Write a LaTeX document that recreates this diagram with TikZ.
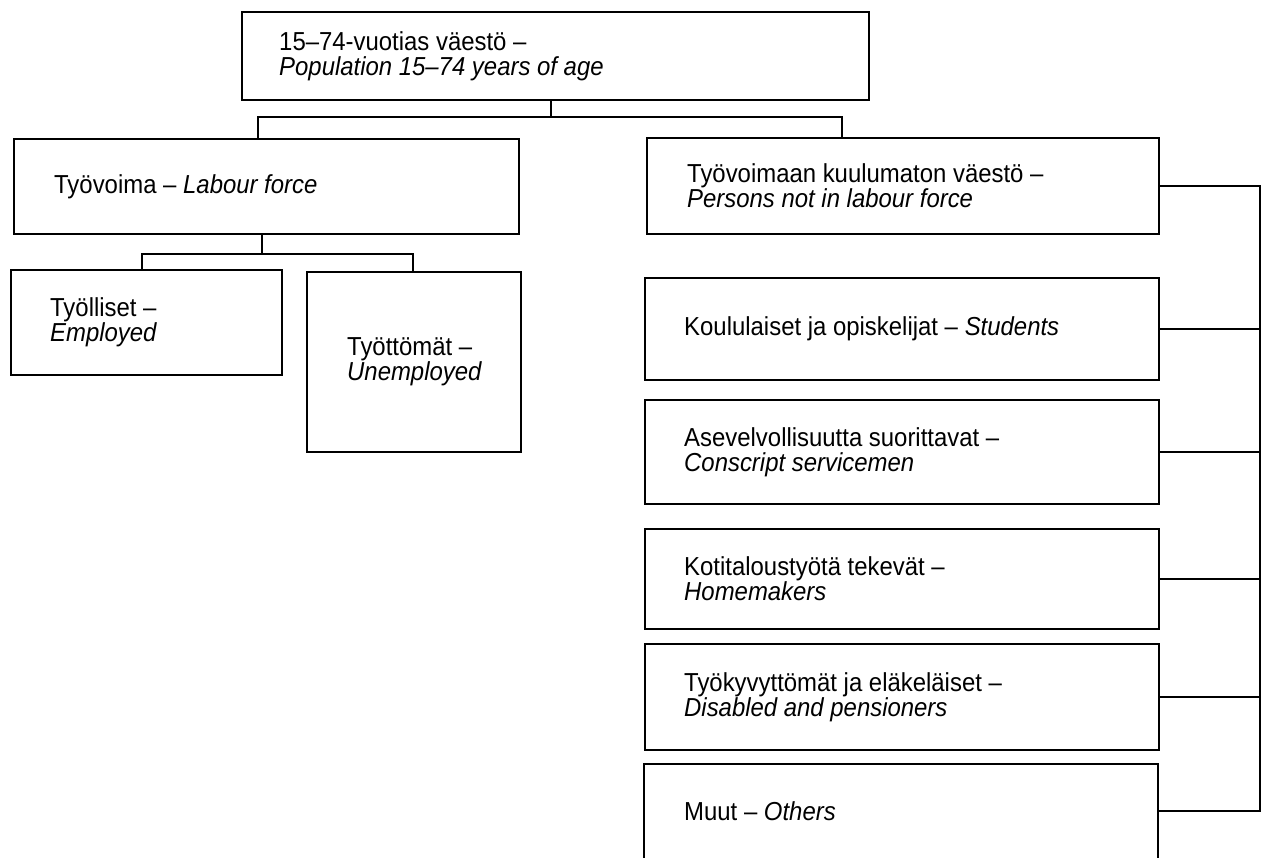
\documentclass[tikz,border=0pt]{standalone}
\usepackage{fontspec}
\setmainfont[FakeStretch=0.92]{Liberation Sans}
\begin{document}
\begin{tikzpicture}[x=1pt,y=-1pt,
  box/.style={draw, line width=1.9pt, inner sep=0pt, anchor=north west},
  lbl/.style={anchor=west, align=left, inner sep=0pt, font=\fontsize{26}{25}\selectfont},
  conn/.style={line width=1.9pt}]
\useasboundingbox (0,0) rectangle (1264,857);
% boxes
\node[box, minimum width=627pt, minimum height=88pt] (top) at (241,11) {};
\node[box, minimum width=505pt, minimum height=95pt] (tv) at (13,138) {};
\node[box, minimum width=512pt, minimum height=96pt] (rt) at (646,137) {};
\node[box, minimum width=271pt, minimum height=105pt] (emp) at (10,269) {};
\node[box, minimum width=214pt, minimum height=180pt] (unemp) at (306,271) {};
\node[box, minimum width=514pt, minimum height=102pt] (kou) at (644,277) {};
\node[box, minimum width=514pt, minimum height=104pt] (ase) at (644,399) {};
\node[box, minimum width=514pt, minimum height=100pt] (koti) at (644,528) {};
\node[box, minimum width=514pt, minimum height=106pt] (tyok) at (644,643) {};
\node[inner sep=0pt, anchor=north west, minimum width=514pt, minimum height=94pt] (muut) at (644,764) {};
\draw[conn] (muut.south west) -- (muut.north west) -- (muut.north east) -- (muut.south east);
% labels
\node[lbl] (topt) at ([xshift=38pt]top.west) {15–74-vuotias väestö –\\\textit{Population 15–74 years of age}};
\node[lbl] (tvt) at ([xshift=41pt]tv.west) {Työvoima – \textit{Labour force}};
\node[lbl] (rtt) at ([xshift=41pt]rt.west) {Työvoimaan kuulumaton väestö –\\\textit{Persons not in labour force}};
\node[lbl] (empt) at ([xshift=40pt]emp.west) {Työlliset –\\\textit{Employed}};
\node[lbl] (unempt) at ([xshift=41pt]unemp.west) {Työttömät –\\\textit{Unemployed}};
\node[lbl] (kout) at ([xshift=40pt]kou.west) {Koululaiset ja opiskelijat – \textit{Students}};
\node[lbl] (aset) at ([xshift=40pt]ase.west) {Asevelvollisuutta suorittavat –\\\textit{Conscript servicemen}};
\node[lbl] (kotit) at ([xshift=40pt]koti.west) {Kotitaloustyötä tekevät –\\\textit{Homemakers}};
\node[lbl] (tyokt) at ([xshift=40pt]tyok.west) {Työkyvyttömät ja eläkeläiset –\\\textit{Disabled and pensioners}};
\node[lbl] (muutt) at ([xshift=40pt]muut.west) {Muut – \textit{Others}};
% connectors
\coordinate (hM) at (551,117);
\coordinate (hL) at (258,117);
\coordinate (hR) at (842,117);
\draw[conn] (top.south -| hM) -- (hM);
\draw[conn] (tv.north -| hL) |- (hR) -- (rt.north -| hR);
\coordinate (gM) at (262,254);
\coordinate (gL) at (142,254);
\coordinate (gR) at (413,254);
\draw[conn] (tv.south -| gM) -- (gM);
\draw[conn] (emp.north -| gL) |- (gR) -- (unemp.north -| gR);
\coordinate (bx) at (1260,0);
\draw[conn] (rt.east) -- (rt.east -| bx) -- (muut.east -| bx) -- (muut.east);
\foreach \n in {kou,ase,koti,tyok} \draw[conn] (\n.east) -- (\n.east -| bx);
\end{tikzpicture}
\end{document}
